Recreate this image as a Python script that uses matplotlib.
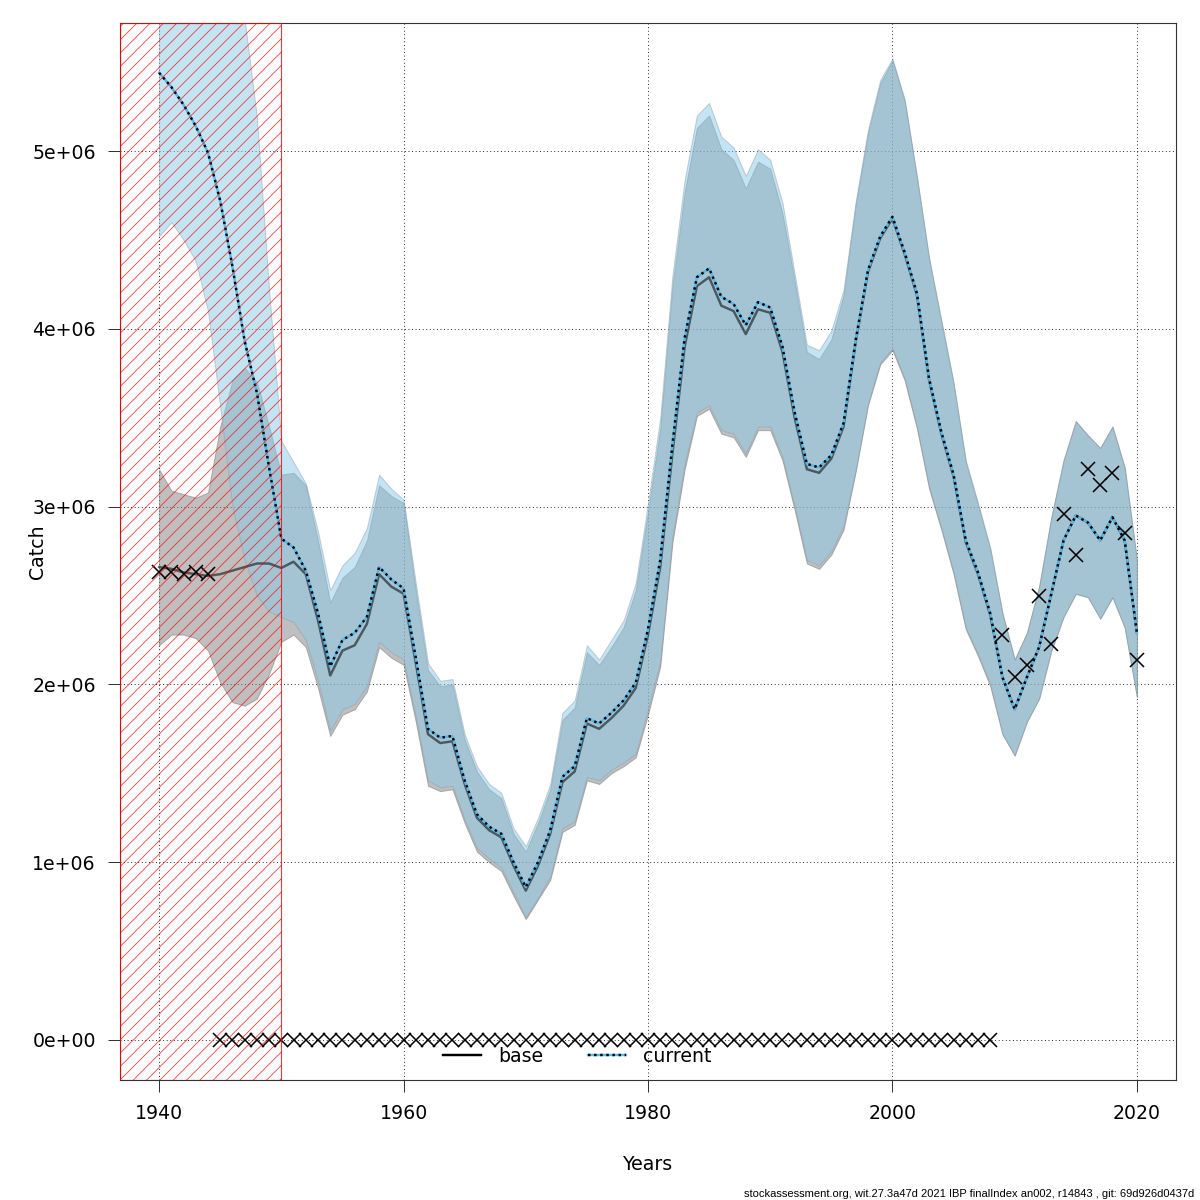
import numpy as np
import matplotlib
matplotlib.use("Agg")
import matplotlib.pyplot as plt
from matplotlib.lines import Line2D
from matplotlib.legend_handler import HandlerTuple

# ---------------- data (catch in millions) ----------------
years = list(range(1940, 2021))

cur_mid = [5.44, 5.36, 5.26, 5.14, 4.99, 4.72, 4.35, 3.93, 3.64, 3.22,
           2.82, 2.77, 2.64, 2.40, 2.10, 2.25, 2.29, 2.38, 2.66, 2.59,
           2.54, 2.15, 1.75, 1.70, 1.71, 1.46, 1.27, 1.20, 1.16, 1.00,
           0.86, 1.00, 1.18, 1.48, 1.54, 1.81, 1.78, 1.84, 1.91, 2.01,
           2.31, 2.70, 3.35, 3.95, 4.29, 4.34, 4.18, 4.14, 4.02, 4.15,
           4.12, 3.90, 3.53, 3.24, 3.22, 3.29, 3.47, 3.94, 4.33, 4.52,
           4.63, 4.43, 4.20, 3.72, 3.42, 3.18, 2.81, 2.63, 2.40, 2.04,
           1.86, 2.04, 2.21, 2.51, 2.81, 2.95, 2.91, 2.81, 2.94, 2.81,
           2.29]
cur_hi = [6.60, 6.60, 6.55, 6.45, 6.35, 6.20, 6.00, 5.74, 5.19, 4.22,
          3.37, 3.25, 3.13, 2.86, 2.53, 2.67, 2.74, 2.88, 3.18, 3.10,
          3.04, 2.57, 2.12, 2.02, 2.03, 1.72, 1.54, 1.44, 1.39, 1.19,
          1.09, 1.25, 1.44, 1.84, 1.91, 2.22, 2.14, 2.25, 2.36, 2.57,
          3.02, 3.50, 4.30, 4.84, 5.20, 5.27, 5.08, 5.02, 4.86, 5.01,
          4.95, 4.71, 4.31, 3.91, 3.88, 3.99, 4.22, 4.72, 5.12, 5.40,
          5.52, 5.29, 4.86, 4.40, 4.05, 3.70, 3.26, 3.02, 2.77, 2.40,
          2.14, 2.29, 2.55, 2.94, 3.26, 3.48, 3.40, 3.33, 3.45, 3.22,
          2.70]
cur_lo = [4.52, 4.60, 4.50, 4.38, 4.10, 3.56, 3.00, 2.70, 2.50, 2.41,
          2.38, 2.35, 2.25, 2.02, 1.74, 1.86, 1.89, 1.99, 2.24, 2.18,
          2.14, 1.82, 1.46, 1.42, 1.43, 1.24, 1.08, 1.02, 0.97, 0.83,
          0.69, 0.80, 0.92, 1.19, 1.23, 1.48, 1.46, 1.52, 1.56, 1.61,
          1.86, 2.13, 2.83, 3.24, 3.53, 3.57, 3.43, 3.41, 3.30, 3.45,
          3.45, 3.28, 3.00, 2.70, 2.67, 2.75, 2.89, 3.21, 3.58, 3.81,
          3.89, 3.72, 3.45, 3.11, 2.88, 2.63, 2.32, 2.17, 2.00, 1.72,
          1.60, 1.79, 1.92, 2.19, 2.38, 2.51, 2.49, 2.37, 2.49, 2.32,
          1.93]

base_mid = [2.66, 2.65, 2.63, 2.62, 2.61, 2.62, 2.64, 2.66, 2.68, 2.68,
            2.655, 2.69, 2.62, 2.36, 2.05, 2.19, 2.22, 2.34, 2.62, 2.55,
            2.51, 2.12, 1.72, 1.67, 1.68, 1.44, 1.25, 1.18, 1.14, 0.98,
            0.84, 0.98, 1.16, 1.45, 1.51, 1.78, 1.75, 1.81, 1.88, 1.98,
            2.28, 2.66, 3.30, 3.90, 4.24, 4.29, 4.13, 4.10, 3.97, 4.11,
            4.09, 3.87, 3.50, 3.21, 3.19, 3.27, 3.45, 3.93, 4.32, 4.51,
            4.62, 4.42, 4.19, 3.71, 3.41, 3.17, 2.80, 2.62, 2.39, 2.04,
            1.86, 2.04, 2.21, 2.51, 2.81, 2.95, 2.91, 2.81, 2.94, 2.81,
            2.29]
base_hi = [3.21, 3.09, 3.07, 3.05, 3.08, 3.45, 3.71, 3.78, 3.70, 3.45,
           3.18, 3.19, 3.12, 2.81, 2.46, 2.60, 2.66, 2.81, 3.12, 3.06,
           3.02, 2.53, 2.08, 1.99, 2.00, 1.69, 1.51, 1.41, 1.36, 1.16,
           1.06, 1.22, 1.41, 1.80, 1.87, 2.18, 2.11, 2.21, 2.32, 2.53,
           2.97, 3.44, 4.24, 4.77, 5.13, 5.20, 5.01, 4.95, 4.79, 4.94,
           4.90, 4.65, 4.27, 3.87, 3.83, 3.94, 4.19, 4.70, 5.10, 5.38,
           5.51, 5.28, 4.85, 4.39, 4.04, 3.69, 3.25, 3.01, 2.76, 2.40,
           2.14, 2.29, 2.55, 2.94, 3.26, 3.48, 3.40, 3.33, 3.45, 3.22,
           2.70]
base_lo = [2.22, 2.28, 2.28, 2.26, 2.19, 2.01, 1.90, 1.88, 1.92, 2.06,
           2.24, 2.28, 2.21, 1.98, 1.71, 1.83, 1.86, 1.96, 2.21, 2.15,
           2.11, 1.79, 1.43, 1.40, 1.41, 1.22, 1.06, 1.00, 0.95, 0.81,
           0.68, 0.79, 0.90, 1.17, 1.21, 1.46, 1.44, 1.50, 1.54, 1.59,
           1.83, 2.10, 2.80, 3.21, 3.51, 3.55, 3.41, 3.39, 3.28, 3.43,
           3.43, 3.26, 2.98, 2.68, 2.65, 2.73, 2.87, 3.20, 3.57, 3.80,
           3.88, 3.71, 3.44, 3.10, 2.87, 2.62, 2.31, 2.16, 1.99, 1.72,
           1.60, 1.79, 1.92, 2.19, 2.38, 2.51, 2.49, 2.37, 2.49, 2.32,
           1.93]

base_obs_years = [1940, 1941, 1942, 1943, 1944]
base_obs = [2.63, 2.63, 2.62, 2.63, 2.62]
cur_obs_years = list(range(1945, 2021))
cur_obs = [0.0] * 64 + [2.28, 2.04, 2.11, 2.50, 2.23, 2.96, 2.73, 3.21,
                        3.12, 3.19, 2.85, 2.14]

shade_end = 1950
xticks = [1940, 1960, 1980, 2000, 2020]
yticks = [0, 1, 2, 3, 4, 5]
legend_labels = ["base", "current"]
footer = "stockassessment.org, wit.27.3a47d 2021 IBP finalIndex an002, r14843 , git: 69d926d0437d"

M = 1e6
def s(v):
    return np.asarray(v, dtype=float) * M

# ---------------- figure ----------------
plt.rcParams['font.family'] = ['DejaVu Sans']
plt.rcParams['hatch.linewidth'] = 0.7
DPI = 80
fig = plt.figure(figsize=(15, 15), dpi=DPI)
ax = fig.add_axes([120 / 1200, 120 / 1200, 1056 / 1200, 1057 / 1200])

xlim = (1936.8, 2023.2)
ax.set_xlim(*xlim)
ax.set_ylim(-0.225e6, 5.72e6)

# grid
for xt in xticks:
    ax.axvline(xt, color='black', lw=0.8, ls=(0, (1, 3)), zorder=0.5)
for yt in yticks:
    ax.axhline(yt * M, color='black', lw=0.8, ls=(0, (1, 3)), zorder=0.5)

# bands
ax.fill_between(years, s(base_lo), s(base_hi), facecolor=(0.5, 0.5, 0.5, 0.5),
                edgecolor=(0.45, 0.45, 0.45, 0.5), lw=0.9, zorder=1)
ax.fill_between(years, s(cur_lo), s(cur_hi), facecolor=(139 / 255, 202 / 255, 231 / 255, 0.51),
                edgecolor=(0.55, 0.6, 0.65, 0.45), lw=0.9, zorder=2)

# lines
ax.plot(years, s(base_mid), color='black', alpha=0.55, lw=2.2, zorder=3)
ax.plot(years, s(cur_mid), color='#56b9ea', lw=2.2, zorder=4)
ax.plot(years, s(cur_mid), color='black', lw=2.2, ls=(0, (1, 1.5)), zorder=4.1)

# observations
ax.plot(base_obs_years, s(base_obs), ls='none', marker='x', ms=12, mew=1.4,
        color='black', zorder=5)
ax.plot(cur_obs_years, s(cur_obs), ls='none', marker='x', ms=12, mew=1.4,
        color='black', zorder=5)

# hatched region
ax.axvspan(xlim[0], shade_end, facecolor='none', edgecolor='red', hatch='//',
           lw=1.0, alpha=0.8, zorder=6)

# axes styling
for sp in ax.spines.values():
    sp.set_color('#333333')
    sp.set_linewidth(1.0)
ax.set_xticks(xticks)
ax.set_xticklabels([str(x) for x in xticks])
ax.set_yticks([y * M for y in yticks])
ax.set_yticklabels(['{:.0e}'.format(y * M) for y in yticks])
ax.tick_params(axis='both', direction='out', length=10.8, width=0.9,
               color='#333333', labelsize=17, pad=11)

ax.set_xlabel('Years', fontsize=17)
ax.xaxis.label.set_va('center')
ax.xaxis.set_label_coords(0.5, (1080 - 1165) / 1057)
ax.set_ylabel('Catch', fontsize=17)
ax.yaxis.label.set_va('center')
ax.yaxis.set_label_coords((37 - 120) / 1056, 0.5)

# legend
h_base = Line2D([], [], color='black', lw=2.2)
h_cur = (Line2D([], [], color='#56b9ea', lw=2.2),
         Line2D([], [], color='black', lw=2.2, ls=(0, (1, 1.5))))
ax.legend([h_base, h_cur], legend_labels, handler_map={tuple: HandlerTuple(ndivide=1)},
          loc='center', bbox_to_anchor=(0.433, 0.0227), ncol=2, frameon=False,
          fontsize=17, handlelength=2.0, handletextpad=0.9, columnspacing=2.4)

fig.text(0.995, 0.005, footer, ha='right', va='center', fontsize=10.0,
         family=['Liberation Sans', 'DejaVu Sans'])

fig.savefig('out.png', dpi=DPI)
